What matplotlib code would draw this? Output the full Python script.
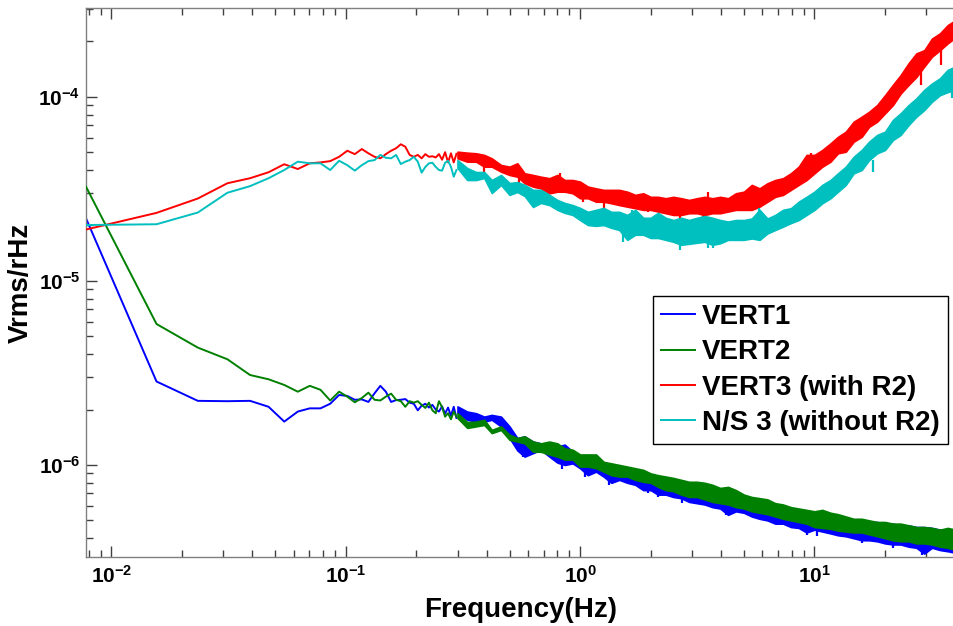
import numpy as np
import matplotlib
matplotlib.use('Agg')
import matplotlib.pyplot as plt
from matplotlib.ticker import LogLocator, NullFormatter, FuncFormatter

plt.rcParams['font.family'] = ['Liberation Sans', 'DejaVu Sans']
plt.rcParams['font.weight'] = 'bold'
plt.rcParams['mathtext.fontset'] = 'custom'
plt.rcParams['mathtext.rm'] = 'Liberation Sans:bold'
plt.rcParams['mathtext.bf'] = 'Liberation Sans:bold'

# low frequency bins (Hz), smooth part of the traces
freq_lo = [0.0078, 0.0156, 0.0234, 0.0313, 0.0391, 0.0469, 0.0547, 0.0625,
           0.0703, 0.0781, 0.0859, 0.0938, 0.1016, 0.1094, 0.1172, 0.125,
           0.1328, 0.1406, 0.1484, 0.1563, 0.1641, 0.1719, 0.1797, 0.1875,
           0.1953, 0.2031, 0.2109, 0.2188, 0.2266, 0.2344, 0.2422, 0.25,
           0.2578, 0.2656, 0.2734, 0.2813, 0.2891, 0.2969]

vert1_lo = np.array([21.9, 2.84, 2.23, 2.22, 2.23, 2.07, 1.72, 1.95,
                     2.03, 2.03, 2.15, 2.40, 2.37, 2.26, 2.27, 2.20,
                     2.45, 2.69, 2.50, 2.20, 2.25, 2.26, 2.28, 2.18,
                     2.15, 1.98, 2.10, 2.15, 2.05, 2.12, 2.00, 1.95,
                     2.08, 1.90, 2.05, 1.85, 2.07, 1.80]) * 1e-6
vert2_lo = np.array([32.5, 5.83, 4.34, 3.75, 3.08, 2.92, 2.72, 2.50,
                     2.69, 2.56, 2.24, 2.50, 2.35, 2.19, 2.31, 2.47,
                     2.26, 2.24, 2.35, 2.44, 2.26, 2.22, 2.07, 2.22,
                     2.18, 2.22, 2.12, 2.04, 2.18, 1.98, 1.91, 2.22,
                     2.06, 1.83, 1.91, 1.77, 1.95, 1.83]) * 1e-6
vert3_lo = np.array([1.90, 2.34, 2.80, 3.39, 3.61, 3.89, 4.30, 4.05,
                     4.35, 4.40, 4.47, 4.72, 5.09, 4.88, 5.20, 4.93,
                     4.72, 4.63, 4.88, 5.09, 5.25, 5.52, 5.35, 4.83,
                     4.72, 4.83, 4.63, 4.88, 4.72, 4.75, 4.68, 4.88,
                     4.55, 5.00, 4.40, 4.93, 4.40, 4.90]) * 1e-5
ns3_lo = np.array([2.01, 2.03, 2.35, 3.01, 3.27, 3.61, 4.00, 4.44,
                   4.35, 4.35, 4.00, 4.49, 4.25, 3.97, 4.25, 4.47,
                   4.53, 4.83, 4.66, 4.63, 4.83, 4.31, 4.44, 4.53,
                   4.72, 4.44, 3.87, 4.16, 4.35, 4.38, 4.16, 4.00,
                   3.97, 4.38, 4.49, 4.16, 3.68, 4.00]) * 1e-5

# higher frequencies (Hz): the traces are noisy bands, upper and lower edge
freq_hi = [0.3, 0.33, 0.36, 0.39, 0.42, 0.46, 0.5, 0.54,
           0.58, 0.63, 0.68, 0.74, 0.8, 0.86, 0.93, 1.0,
           1.08, 1.17, 1.26, 1.36, 1.47, 1.59, 1.72, 1.86,
           2.0, 2.15, 2.32, 2.5, 2.7, 2.92, 3.15, 3.4,
           3.67, 3.96, 4.28, 4.62, 5.0, 5.4, 5.83, 6.3,
           6.8, 7.34, 7.93, 8.56, 9.25, 10.0, 10.8, 11.7,
           12.6, 13.6, 14.7, 15.9, 17.1, 18.5, 20.0, 21.6,
           23.3, 25.2, 27.2, 29.4, 31.7, 34.3, 37.0, 40.0]

vert1_top = np.array([2.08, 1.95, 1.91, 1.83, 1.87, 1.83, 1.62, 1.40,
                      1.43, 1.34, 1.31, 1.26, 1.26, 1.29, 1.18, 1.11,
                      1.07, 1.02, 1.00, 0.96, 0.94, 0.94, 0.90, 0.88,
                      0.865, 0.85, 0.83, 0.81, 0.80, 0.76, 0.76, 0.75,
                      0.73, 0.72, 0.70, 0.69, 0.66, 0.65, 0.63, 0.62,
                      0.61, 0.59, 0.58, 0.57, 0.56, 0.55, 0.55, 0.54,
                      0.525, 0.515, 0.505, 0.505, 0.49, 0.49, 0.48, 0.48,
                      0.47, 0.47, 0.46, 0.46, 0.455, 0.445, 0.445, 0.44]) * 1e-6
vert1_bot = np.array([1.91, 1.76, 1.72, 1.72, 1.76, 1.62, 1.40, 1.20,
                      1.11, 1.16, 1.21, 1.11, 1.03, 1.00, 1.02, 0.96,
                      0.88, 0.92, 0.865, 0.80, 0.83, 0.80, 0.78, 0.73,
                      0.73, 0.69, 0.69, 0.67, 0.66, 0.63, 0.62, 0.61,
                      0.59, 0.58, 0.536, 0.56, 0.55, 0.525, 0.51, 0.50,
                      0.48, 0.48, 0.46, 0.455, 0.43, 0.445, 0.435, 0.425,
                      0.415, 0.41, 0.40, 0.39, 0.39, 0.385, 0.375, 0.37,
                      0.37, 0.36, 0.355, 0.33, 0.355, 0.345, 0.34, 0.333]) * 1e-6

vert2_top = np.array([1.91, 1.71, 1.72, 1.76, 1.55, 1.62, 1.46, 1.40,
                      1.43, 1.34, 1.31, 1.34, 1.31, 1.23, 1.21, 1.14,
                      1.14, 1.14, 1.04, 1.02, 1.00, 0.98, 0.96, 0.94,
                      0.90, 0.88, 0.865, 0.85, 0.83, 0.81, 0.81, 0.80,
                      0.78, 0.75, 0.76, 0.73, 0.69, 0.67, 0.66, 0.65,
                      0.62, 0.61, 0.59, 0.58, 0.57, 0.56, 0.57, 0.55,
                      0.54, 0.525, 0.51, 0.51, 0.50, 0.49, 0.49, 0.48,
                      0.48, 0.47, 0.46, 0.46, 0.455, 0.445, 0.455, 0.445]) * 1e-6
vert2_bot = np.array([1.80, 1.59, 1.62, 1.65, 1.49, 1.55, 1.37, 1.34,
                      1.31, 1.18, 1.18, 1.14, 1.11, 1.07, 1.07, 0.98,
                      0.98, 0.96, 0.92, 0.88, 0.865, 0.865, 0.83, 0.81,
                      0.80, 0.76, 0.73, 0.72, 0.69, 0.67, 0.67, 0.65,
                      0.63, 0.62, 0.61, 0.59, 0.58, 0.56, 0.55, 0.54,
                      0.525, 0.51, 0.50, 0.49, 0.48, 0.46, 0.455, 0.45,
                      0.44, 0.435, 0.43, 0.43, 0.42, 0.41, 0.40, 0.39,
                      0.385, 0.385, 0.375, 0.375, 0.37, 0.36, 0.355, 0.345]) * 1e-6

vert3_top = np.array([5.03, 4.97, 4.93, 4.83, 4.63, 4.26, 4.17, 4.35,
                      3.84, 3.76, 3.68, 3.61, 3.76, 3.53, 3.53, 3.46,
                      3.25, 3.18, 3.12, 3.12, 3.12, 3.05, 2.93, 2.99,
                      2.86, 2.86, 2.81, 2.86, 2.81, 2.75, 2.81, 2.86,
                      2.81, 2.86, 2.81, 2.99, 3.05, 3.32, 3.18, 3.39,
                      3.53, 3.61, 3.84, 4.17, 4.83, 4.83, 5.14, 5.58,
                      6.06, 6.46, 7.32, 7.79, 8.29, 9.01, 10.2, 11.6,
                      13.1, 15.2, 17.2, 17.9, 20.7, 22.1, 24.5, 26.1]) * 1e-5
vert3_bot = np.array([4.63, 4.44, 4.44, 4.17, 4.17, 3.92, 3.76, 3.68,
                      3.39, 3.25, 3.18, 2.99, 3.05, 3.05, 2.99, 2.81,
                      2.81, 2.69, 2.69, 2.64, 2.58, 2.53, 2.48, 2.43,
                      2.43, 2.38, 2.33, 2.28, 2.28, 2.33, 2.33, 2.28,
                      2.33, 2.33, 2.38, 2.43, 2.43, 2.43, 2.53, 2.69,
                      2.86, 2.93, 3.12, 3.32, 3.53, 3.84, 4.17, 4.44,
                      4.93, 5.03, 5.70, 6.06, 6.87, 7.32, 8.13, 9.01,
                      10.4, 11.6, 12.8, 14.6, 16.5, 17.9, 19.5, 21.0]) * 1e-5

ns3_top = np.array([4.53, 4.10, 3.90, 3.90, 3.53, 3.76, 3.40, 3.44,
                    3.32, 3.12, 3.12, 2.93, 2.75, 2.65, 2.58, 2.49,
                    2.37, 2.43, 2.49, 2.37, 2.37, 2.28, 2.43, 2.20,
                    2.20, 2.34, 2.20, 2.14, 2.20, 2.14, 2.20, 2.25,
                    2.20, 2.14, 2.10, 2.14, 2.14, 2.18, 2.43, 2.18,
                    2.28, 2.43, 2.48, 2.69, 2.86, 3.05, 3.32, 3.53,
                    3.84, 4.17, 4.72, 5.14, 5.70, 6.20, 6.46, 7.48,
                    8.13, 9.01, 9.80, 10.9, 11.8, 12.6, 14.0, 14.6]) * 1e-5
ns3_bot = np.array([4.10, 3.53, 3.53, 3.62, 3.00, 3.32, 2.93, 3.04,
                    2.89, 2.52, 2.65, 2.58, 2.43, 2.34, 2.28, 2.14,
                    2.01, 1.99, 2.01, 1.94, 1.89, 1.67, 1.78, 1.78,
                    1.71, 1.71, 1.67, 1.63, 1.57, 1.59, 1.61, 1.63,
                    1.57, 1.60, 1.67, 1.67, 1.67, 1.70, 1.67, 1.81,
                    1.89, 1.97, 2.06, 2.14, 2.28, 2.43, 2.64, 2.81,
                    3.05, 3.32, 3.84, 4.00, 4.53, 4.93, 5.14, 5.82,
                    6.20, 7.02, 7.79, 8.47, 9.39, 10.2, 10.6, 10.9]) * 1e-5

# single noise spikes sticking out of the bands: frequency, band edge, tip
vert1_spk_f = [0.57, 0.84, 1.05, 1.33, 1.95, 2.15, 2.72, 4.2, 9.3, 10.2, 16.0, 21.6, 28.7]
vert1_spk_a = np.array([1.30, 1.03, 0.94, 0.85, 0.76, 0.73, 0.68, 0.58, 0.45, 0.44, 0.40, 0.38, 0.36]) * 1e-6
vert1_spk_b = np.array([1.11, 0.95, 0.865, 0.78, 0.70, 0.674, 0.62, 0.536, 0.417, 0.409, 0.376, 0.353, 0.325]) * 1e-6
vert3_spk_f = [0.39, 0.55, 0.82, 1.03, 1.26, 1.95, 2.67, 3.33, 3.5, 9.7, 28.4, 34.5]
vert3_spk_a = np.array([4.17, 3.68, 3.40, 2.81, 2.69, 2.43, 2.28, 2.33, 2.81, 3.84, 14.6, 19.5]) * 1e-5
vert3_spk_b = np.array([3.80, 3.40, 3.84, 2.69, 2.43, 2.38, 2.06, 2.18, 3.05, 4.93, 11.6, 14.8]) * 1e-5
ns3_spk_f = [1.53, 1.67, 2.68, 3.5, 3.7, 5.8, 17.8, 38.5]
ns3_spk_a = np.array([1.89, 2.28, 1.63, 1.63, 1.60, 2.18, 4.53, 12.0]) * 1e-5
ns3_spk_b = np.array([1.63, 2.43, 1.47, 1.50, 1.50, 2.48, 3.92, 9.80]) * 1e-5

labels = ['VERT1', 'VERT2', 'VERT3 (with R2)', 'N/S 3 (without R2)']
colors = ['#0000ff', '#008000', '#ff0000', '#00bfbf']

fig = plt.figure(figsize=(9.54, 6.26), dpi=100)
ax = fig.add_axes([0.0901, 0.1102, 0.9116, 0.877])

traces = [(vert1_lo, vert1_bot, vert1_top),
          (vert2_lo, vert2_bot, vert2_top),
          (vert3_lo, vert3_bot, vert3_top),
          (ns3_lo, ns3_bot, ns3_top)]
spikes = {0: (vert1_spk_f, vert1_spk_a, vert1_spk_b),
          2: (vert3_spk_f, vert3_spk_a, vert3_spk_b),
          3: (ns3_spk_f, ns3_spk_a, ns3_spk_b)}
for i, (lo, bot, top) in enumerate(traces):
    ax.plot(freq_lo, lo, color=colors[i], lw=1.4, label=labels[i], zorder=2 + i)
    ax.fill_between(freq_hi, bot, top, color=colors[i], lw=1.2, zorder=2 + i)
    if i in spikes:
        f, a, b = spikes[i]
        ax.vlines(f, a, b, color=colors[i], lw=1.6, zorder=2 + i)

ax.set_xscale('log')
ax.set_yscale('log')
ax.set_xlim(0.0078, 40)
ax.set_ylim(10 ** -6.5, 10 ** -3.518)

fmt = FuncFormatter(lambda v, p: r'$\mathbf{10^{%d}}$' % round(np.log10(v)))
for axis in (ax.xaxis, ax.yaxis):
    axis.set_major_locator(LogLocator(base=10, numticks=12))
    axis.set_minor_locator(LogLocator(base=10, subs=np.arange(2, 10), numticks=60))
    axis.set_major_formatter(fmt)
    axis.set_minor_formatter(NullFormatter())

ax.tick_params(which='both', direction='in', top=True, right=False,
               color='#404040', labelsize=15)
ax.tick_params(axis='x', pad=6)
ax.tick_params(axis='y', pad=4)
ax.tick_params(which='major', length=8, width=1)
ax.tick_params(which='minor', length=5, width=1)
for s in ax.spines.values():
    s.set_color('#808080')
    s.set_linewidth(1)
ax.spines['right'].set_visible(False)

ax.set_xlabel('Frequency(Hz)', fontsize=20, fontweight='bold', labelpad=7)
ax.set_ylabel('Vrms/rHz', fontsize=20, fontweight='bold', labelpad=3)

leg = ax.legend(loc='upper right', bbox_to_anchor=(0.9908, 0.4754),
                borderaxespad=0, prop={'size': 20, 'weight': 'bold'},
                fancybox=False, edgecolor='k', framealpha=1,
                handlelength=1.22, handletextpad=0.25, labelspacing=0.34,
                borderpad=0.28)
leg.get_frame().set_linewidth(1.0)

fig.savefig('out.png', dpi=100)
